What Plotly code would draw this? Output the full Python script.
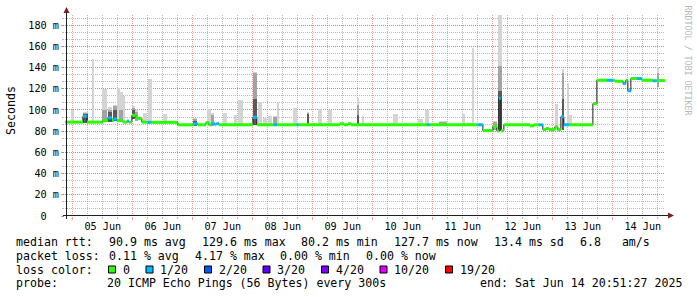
import numpy as np
import pandas as pd
import plotly.graph_objects as go

# ---------------- data ----------------
REF = pd.Timestamp("2025-06-05 00:00:00")      # hours below are counted from here
T_START = pd.Timestamp("2025-06-04 20:51:27")
T_END = pd.Timestamp("2025-06-14 20:51:27")

# median rtt as steps: start (hours after 05 Jun 00:00), value (ms), lost pings of 20
med_start_h = [-3.15, 4.0, 5.6, 12.0, 14.0, 15.6, 16.4, 17.6, 20.0, 21.6, 22.4, 23.6, 25.2, 26.0,
               27.6, 30.0, 31.2, 42.0, 48.4, 50.0, 53.2, 54.4, 55.6, 56.8, 57.2, 58.4, 72.0, 73.6,
               80.4, 81.6, 89.6, 90.4, 106.8, 108.4, 110.0, 111.2, 141.6, 142.8, 162.0, 164.0,
               168.0, 169.6, 170.4, 171.2, 172.4, 182.8, 184.4, 186.4, 188.0, 189.2, 190.4, 192.8,
               194.0, 195.2, 196.4, 198.4, 208.0, 209.6, 213.6, 216.0, 216.8, 220.0, 221.2, 222.0,
               223.2, 225.6, 227.6, 232.0, 233.6]
med_ms = [88.5, 94.0, 88.5, 90.0, 92.5, 90.0, 91.5, 90.0, 88.5, 89.5, 88.5, 95.0, 93.0, 92.0,
          88.5, 88.3, 88.3, 86.0, 87.0, 86.0, 88.0, 86.0, 87.0, 86.0, 87.0, 86.0, 93.0, 86.0,
          86.0, 86.0, 86.0, 86.0, 87.0, 86.0, 87.0, 86.0, 86.0, 86.0, 86.0, 80.5,
          84.5, 80.2, 111.0, 80.5, 86.0, 85.0, 86.0, 86.0, 81.5, 82.5, 81.5, 84.0,
          81.5, 93.5, 86.0, 86.0, 106.0, 128.0, 128.0, 128.0, 127.0, 125.0, 128.0, 118.0,
          129.6, 129.6, 128.0, 127.5, 127.7]
med_loss = [0, 1, 0, 0, 1, 0, 1, 0, 0, 1, 0, 0, 0, 0,
            0, 1, 0, 0, 1, 0, 0, 0, 1, 0, 1, 0, 1, 0,
            1, 0, 1, 0, 0, 0, 0, 0, 1, 0, 1, 0,
            0, 0, 1, 0, 0, 0, 0, 1, 0, 0, 0, 0,
            0, 1, 1, 0, 0, 0, 1, 0, 0, 1, 0, 1,
            0, 1, 0, 1, 0]

# smoke (spread of the 20 pings): time span, bottom, top of light / mid / dark band (ms)
smoke_start_h = [-0.4, 4.0, 7.6, 11.6, 14.0, 16.0, 17.6, 18.4, 20.0, 23.6, 24.8, 28.0, 30.0, 36.0,
                 48.0, 53.6, 55.2, 60.0, 64.4, 66.0, 72.0, 74.0, 76.0, 78.0, 80.0, 81.6, 88.0,
                 93.6, 98.0, 102.0, 113.6, 115.6, 128.0, 138.0, 140.8, 146.4, 155.6, 157.6,
                 159.6, 168.0, 170.0, 192.8, 195.6, 197.6, 198.0, 233.6]
smoke_end_h = [0.4, 6.0, 8.4, 13.6, 15.6, 17.6, 18.8, 20.0, 20.8, 24.8, 26.0, 29.6, 31.6, 37.6,
               49.6, 55.2, 56.4, 61.6, 65.6, 68.0, 73.6, 75.6, 77.6, 79.6, 81.6, 82.4, 89.6,
               94.4, 99.6, 103.6, 114.4, 116.4, 130.0, 140.0, 142.4, 149.6, 156.8, 160.0,
               160.4, 169.6, 171.6, 194.0, 196.4, 198.4, 199.6, 234.4]
smoke_lo = [87.5, 88.0, 87.5, 88.5, 89.0, 89.5, 89.0, 88.5, 87.5, 91.0, 90.0, 87.5, 87.3, 87.3,
            85.0, 85.0, 85.0, 85.0, 85.0, 85.0, 86.0, 85.0, 85.0, 85.0, 85.0, 85.0, 85.0,
            85.0, 85.0, 85.0, 85.0, 85.0, 85.0, 85.0, 85.0, 85.0, 85.0, 85.0,
            85.0, 81.0, 80.5, 80.5, 81.0, 85.0, 85.0, 122.0]
smoke_light = [100.0, 98.0, 147.7, 120.0, 102.6, 104.6, 121.0, 117.0, 113.0, 103.7, 100.0, 97.0,
               129.4, 96.0, 92.0, 101.0, 97.0, 97.0, 95.0, 109.0, 136.0, 107.6, 92.0, 94.0, 94.0,
               107.6, 101.4, 98.0, 100.7, 99.5, 111.0, 94.0, 96.0, 91.0, 100.0, 89.7, 96.0, 88.0,
               158.0, 90.0, 189.4, 105.6, 139.0, 125.0, 95.0, 140.7]
smoke_mid = [0, 97.0, 0, 100.0, 100.0, 104.0, 0, 100.0, 0, 102.0, 98.0, 0,
             0, 0, 91.0, 0, 95.0, 0, 0, 0, 135.0, 0, 0, 0, 93.0,
             0, 0, 97.0, 0, 0, 105.0, 0, 0, 0, 0, 89.0, 0, 0,
             0, 89.0, 141.0, 0, 135.0, 0, 0, 135.0]
smoke_dark = [0, 96.0, 0, 0, 98.0, 100.0, 0, 0, 0, 100.0, 0, 0,
              0, 0, 90.0, 0, 0, 0, 0, 0, 110.0, 0, 0, 0, 0,
              0, 0, 96.0, 0, 0, 95.0, 0, 0, 0, 0, 0, 0, 0,
              0, 0, 118.0, 0, 110.0, 0, 0, 0]

loss_levels = [0, 1, 2, 3, 4, 10, 19]
loss_labels = ["0", "1/20", "2/20", "3/20", "4/20", "10/20", "19/20"]
loss_colors = ["#26ff00", "#00b8ff", "#0059ff", "#5e00ff", "#7e00ff", "#dd00ff", "#ff0000"]

y_tickvals = [0, 20, 40, 60, 80, 100, 120, 140, 160, 180]
y_ticktext = ["0\u00a0\u00a0"] + [f"{v} m" for v in y_tickvals[1:]]

rtt_items = ["median rtt:", "90.9 ms avg", "129.6 ms max", "80.2 ms min", "127.7 ms now",
             "13.4 ms sd", "6.8\u00a0\u00a0\u00a0am/s"]
rtt_cols = [0, 13, 26, 40, 53, 67, 79]
loss_items = ["packet loss:", "0.11 % avg", "4.17 % max", "0.00 % min", "0.00 % now"]
loss_cols = [0, 13, 25, 37, 49]
probe_text = "20 ICMP Echo Pings (56 Bytes) every 300s"
end_text = "end: Sat Jun 14 20:51:27 2025"

# ---------------- styling / geometry ----------------
W, H = 697, 297
ML, MR, MT, MB = 65, 32, 15, 81
PW, PH = W - ML - MR, H - MT - MB
FONT = "DejaVu Sans Mono"
GRID = "rgba(143,143,143,0.6)"
MGRID = "rgba(222,79,79,0.55)"
AXIS = "#1f1f1f"
ARROW = "#801f1f"
PITCH = 7.0


def px(x):
    return (x - ML) / PW


def py(y):
    return (H - MB - y) / PH


def to_t(hours):
    return REF + pd.to_timedelta(np.asarray(hours, dtype=float), unit="h")


fig = go.Figure()

# smoke
s0 = to_t(smoke_start_h)
s1 = to_t(smoke_end_h)
centers = s0 + (s1 - s0) / 2
widths = ((s1 - s0) / pd.Timedelta(milliseconds=1)).astype(float)
lo = np.array(smoke_lo)
for tops, col in ((smoke_light, "#d4d4d4"), (smoke_mid, "#a4a4a4"), (smoke_dark, "#5a5a5a")):
    tops = np.array(tops, dtype=float)
    m = tops > lo
    fig.add_trace(go.Bar(x=centers[m], y=(tops - lo)[m], base=lo[m], width=widths[m],
                         marker=dict(color=col, line=dict(width=0)), hoverinfo="skip"))

# median: thin dark step line, then loss-coloured horizontal parts
t_steps = list(to_t(med_start_h)) + [T_END]
fig.add_trace(go.Scatter(x=t_steps, y=list(med_ms) + [med_ms[-1]], mode="lines",
                         line=dict(color=AXIS, width=1, shape="hv"), hoverinfo="skip"))
for lvl, col in zip(loss_levels, loss_colors):
    xs, ys = [], []
    for i, (v, l) in enumerate(zip(med_ms, med_loss)):
        if l == lvl:
            xs += [t_steps[i], t_steps[i + 1], None]
            ys += [v, v, None]
    if xs:
        fig.add_trace(go.Scatter(x=xs, y=ys, mode="lines", line=dict(color=col, width=3),
                                 hoverinfo="skip"))

shapes = []
# axes lines and arrows
shapes.append(dict(type="line", xref="paper", yref="paper", x0=px(66.5), x1=px(66.5),
                   y0=py(219), y1=py(12), line=dict(color=AXIS, width=1)))
shapes.append(dict(type="line", xref="paper", yref="paper", x0=px(63), x1=px(669),
                   y0=py(215.5), y1=py(215.5), line=dict(color=AXIS, width=1)))
shapes.append(dict(type="path", xref="paper", yref="paper",
                   path=f"M {px(66.5)},{py(7)} L {px(63.5)},{py(13)} L {px(69.5)},{py(13)} Z",
                   fillcolor=ARROW, line=dict(width=0)))
shapes.append(dict(type="path", xref="paper", yref="paper",
                   path=f"M {px(674)},{py(215.5)} L {px(668)},{py(212.5)} L {px(668)},{py(218.5)} Z",
                   fillcolor=ARROW, line=dict(width=0)))

ann = []
ann.append(dict(text="Seconds", x=px(11), y=py(111), xref="paper", yref="paper", showarrow=False,
                textangle=-90, font=dict(family=FONT, size=11.6, color="black"),
                xanchor="center", yanchor="middle"))
ann.append(dict(text="RRDTOOL / TOBI OETIKER", x=px(687.5), y=py(60), xref="paper", yref="paper",
                showarrow=False, textangle=90, font=dict(family=FONT, size=8.3, color="#b8b8b8"),
                xanchor="center", yanchor="middle"))


def text_at(s, x, y):
    ann.append(dict(text=s, x=px(x), y=py(y), xref="paper", yref="paper", showarrow=False,
                    xanchor="left", yanchor="middle", borderpad=0, borderwidth=0,
                    font=dict(family=FONT, size=11.6, color="black")))


ROW = [242, 255.8, 269.5, 283.2]
for k, (s, c) in enumerate(zip(rtt_items, rtt_cols)):
    text_at(s, 16 + PITCH * c + 1.75 * k, ROW[0])
for k, (s, c) in enumerate(zip(loss_items, loss_cols)):
    text_at(s, 16 + PITCH * c + 1.75 * k, ROW[1])
text_at("loss color:", 16, ROW[2])
bx = 108.5
for lab, col in zip(loss_labels, loss_colors):
    shapes.append(dict(type="rect", xref="paper", yref="paper", x0=px(bx), x1=px(bx + 7),
                       y0=py(ROW[2] + 3.5), y1=py(ROW[2] - 3.5), fillcolor=col,
                       line=dict(color="black", width=1)))
    text_at(lab, bx + 14, ROW[2])
    bx += 14 + PITCH * len(lab) + 16.5
text_at("probe:", 16, ROW[3])
text_at(probe_text, 16 + PITCH * 13, ROW[3])
ann.append(dict(text=end_text, x=px(681.5), y=py(ROW[3]), xref="paper", yref="paper",
                showarrow=False, xanchor="right", yanchor="middle", borderpad=0, borderwidth=0,
                font=dict(family=FONT, size=11.6, color="black")))

fig.update_layout(
    width=W, height=H, margin=dict(l=ML, r=MR, t=MT, b=MB, pad=0),
    paper_bgcolor="white", plot_bgcolor="white", showlegend=False,
    barmode="overlay", bargap=0,
    font=dict(family=FONT, size=11.6, color="black"),
    xaxis=dict(type="date", range=[T_START, T_END], tick0=REF, dtick=86400000,
               tickformat="%d %b", ticklabelmode="period", ticklabelstandoff=-2,
               showgrid=True, gridcolor=MGRID, gridwidth=1, griddash="1px,1px",
               ticks="outside", ticklen=3, tickcolor=MGRID,
               minor=dict(dtick=21600000, tick0=REF, showgrid=True, gridcolor=GRID,
                          griddash="1px,1px", ticks="outside", ticklen=2, tickcolor=GRID),
               tickfont=dict(family=FONT, size=10.2, color="black"),
               showline=False, zeroline=False, fixedrange=True),
    yaxis=dict(range=[0, 189.5], tickmode="array", tickvals=y_tickvals, ticktext=y_ticktext,
               showgrid=True, gridcolor=MGRID, gridwidth=1, griddash="1px,1px",
               ticks="outside", ticklen=3, tickcolor=MGRID,
               minor=dict(dtick=20 / 3, tick0=0, showgrid=True, gridcolor=GRID,
                          griddash="1px,1px", ticks="outside", ticklen=2, tickcolor=GRID),
               tickfont=dict(family=FONT, size=10.2, color="black"),
               showline=False, zeroline=False, fixedrange=True),
    shapes=shapes, annotations=ann,
)

fig.write_html("out.html")
